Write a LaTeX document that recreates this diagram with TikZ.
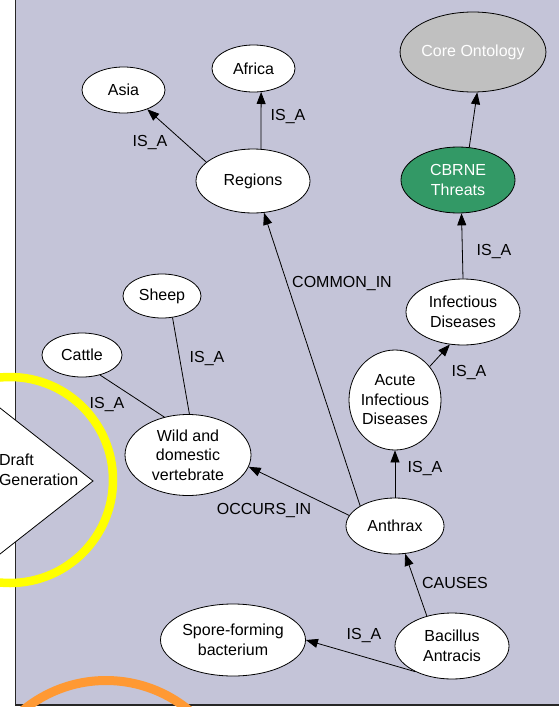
\documentclass[tikz,border=0pt]{standalone}
\usepackage{fontspec}
\setmainfont{Liberation Sans}
\usepackage{xcolor}
\usetikzlibrary{shapes.geometric,arrows.meta}
\definecolor{panel}{RGB}{196,196,216}
\definecolor{threatgreen}{RGB}{51,153,102}
\definecolor{coregray}{RGB}{192,192,192}
\definecolor{ringyellow}{RGB}{255,255,0}
\definecolor{ringorange}{RGB}{255,153,51}

\begin{document}
\begin{tikzpicture}[x=1pt,y=-1pt,
        concept/.style={ellipse,draw,line width=0.8pt,fill=white,inner sep=0pt,align=center,font=\fontsize{16}{19.5}\selectfont},
        rel/.style={font=\fontsize{16}{19.5}\selectfont},
        isa/.style={-{Triangle[length=12pt,width=9pt]},line width=0.8pt},
        plain/.style={line width=0.8pt}]
        \useasboundingbox (0,0) rectangle (558,707);
        \fill[panel] (15,-5) rectangle (565,705);
        \draw[line width=1.5pt,black!85] (15.5,-5) -- (15.5,705) -- (565,705);
        \filldraw[fill=white,line width=0.8pt] (-20,392.3) -- (93,481) -- (-20,569.7) -- cycle;
        \node[rel,align=left,anchor=west](draft) at (-4.5,470) {Draft\\Generation};
        \draw[ringyellow,line width=8.5pt] (10,480) circle (103pt);
        \draw[ringorange,line width=9pt] (106,811) circle (130.5pt);
        \node[concept,fill=coregray,text=white,minimum width=144pt,minimum height=80pt](core) at (473,52) {Core Ontology};
        \node[concept,fill=threatgreen,text=white,minimum width=114pt,minimum height=66pt](cbrne) at (458,180) {CBRNE\\Threats};
        \node[concept,minimum width=114pt,minimum height=66pt](infectious) at (463,312) {Infectious\\Diseases};
        \node[concept,inner xsep=-2pt,minimum width=92pt,minimum height=100pt](acute) at (395,400) {Acute\\Infectious\\Diseases};
        \node[concept,minimum width=98pt,minimum height=56pt](anthrax) at (395,526) {Anthrax};
        \node[concept,minimum width=114pt,minimum height=66pt](bacillus) at (452,646) {Bacillus\\Antracis};
        \node[concept,minimum width=145pt,minimum height=72pt](spore) at (233,640) {Spore-forming\\bacterium};
        \node[concept,minimum width=126pt,minimum height=81pt](wild) at (188,455) {Wild and\\domestic\\vertebrate};
        \node[concept,minimum width=78pt,minimum height=44pt](sheep) at (162,296) {Sheep};
        \node[concept,minimum width=80pt,minimum height=44pt](cattle) at (82,355) {Cattle};
        \node[concept,minimum width=114pt,minimum height=64pt](regions) at (253,181) {Regions};
        \node[concept,minimum width=83pt,minimum height=46pt](asia) at (123.5,90) {Asia};
        \node[concept,minimum width=83pt,minimum height=47pt](africa) at (253.5,68.5) {Africa};
        \draw[isa](cbrne.71)--(core.-84);
        \draw[isa](infectious.north)--(cbrne.-84);
        \draw[isa](acute.44)--(infectious.248);
        \draw[isa](anthrax.north)--(acute.south);
        \draw[isa](bacillus.130)--(anthrax.-70);
        \draw[isa](bacillus.215)--(spore.east);
        \draw[isa](anthrax.167)--(wild.-11);
        \draw[isa](anthrax.150)--(regions.-71);
        \draw[isa](regions.158)--(asia.-39);
        \draw[isa](regions.76)--(africa.-72);
        \draw[plain](wild.122)--(cattle.-48);
        \draw[plain](wild.88)--(sheep.-64);
        \node[rel](l1) at (150,143) {IS\_A};
        \node[rel](l2) at (288,117) {IS\_A};
        \node[rel](l3) at (494,252) {IS\_A};
        \node[rel](l4) at (469,372) {IS\_A};
        \node[rel](l5) at (425,468) {IS\_A};
        \node[rel](l6) at (455,583) {CAUSES};
        \node[rel](l7) at (364,635) {IS\_A};
        \node[rel](l8) at (342,283) {COMMON\_IN};
        \node[rel](l9) at (264,510) {OCCURS\_IN};
        \node[rel](l10) at (207,358) {IS\_A};
        \node[rel](l11) at (107,404) {IS\_A};
\end{tikzpicture}
\end{document}
